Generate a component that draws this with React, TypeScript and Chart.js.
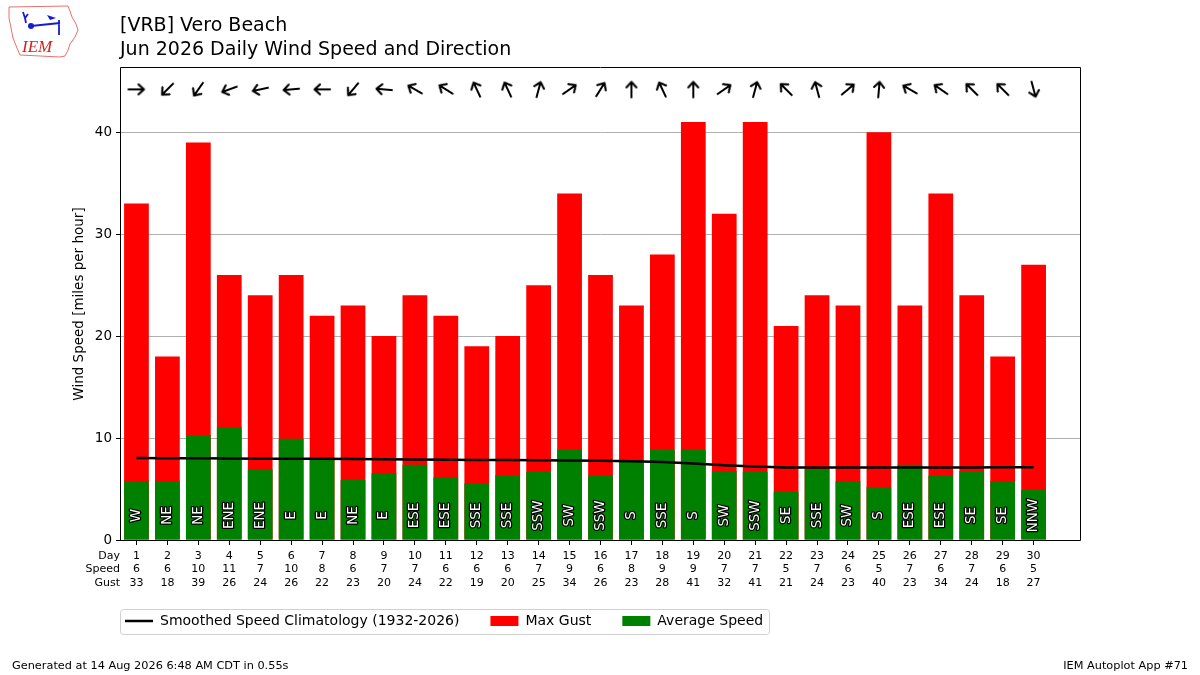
import { useEffect, useRef } from 'react'
import { Chart, registerables } from 'chart.js'

Chart.register(...registerables)
Chart.defaults.font.family = '"DejaVu Sans", sans-serif'
Chart.defaults.color = '#000'

const days = [1, 2, 3, 4, 5, 6, 7, 8, 9, 10, 11, 12, 13, 14, 15, 16, 17, 18, 19, 20, 21, 22, 23, 24, 25, 26, 27, 28, 29, 30]
const avgSpeed = [5.78, 5.78, 10.29, 11.05, 6.93, 9.93, 8.07, 5.88, 6.57, 7.39, 6.14, 5.55, 6.37, 6.7, 8.89, 6.37, 7.85, 8.82, 8.86, 6.76, 6.7, 4.74, 6.96, 5.78, 5.2, 7.38, 6.31, 6.76, 5.78, 4.93]
const maxGust = [33, 18, 39, 26, 24, 26, 22, 23, 20, 24, 22, 19, 20, 25, 34, 26, 23, 28, 41, 32, 41, 21, 24, 23, 40, 23, 34, 24, 18, 27]
const speedRow = [6, 6, 10, 11, 7, 10, 8, 6, 7, 7, 6, 6, 6, 7, 9, 6, 8, 9, 9, 7, 7, 5, 7, 6, 5, 7, 6, 7, 6, 5]
const dirText = ['W', 'NE', 'NE', 'ENE', 'ENE', 'E', 'E', 'NE', 'E', 'ESE', 'ESE', 'SSE', 'SSE', 'SSW', 'SW', 'SSW', 'S', 'SSE', 'S', 'SW', 'SSW', 'SE', 'SSE', 'SW', 'S', 'ESE', 'ESE', 'SE', 'SE', 'NNW']
// direction the wind blows from, degrees
const dirDeg = [270, 45, 35, 70, 78, 85, 90, 40, 95, 120, 122, 155, 155, 195, 235, 212, 180, 155, 180, 235, 195, 135, 165, 230, 185, 120, 125, 135, 135, 345]
const climo = [8.05, 8.03, 8.01, 8.0, 7.98, 7.97, 7.96, 7.95, 7.92, 7.9, 7.87, 7.85, 7.84, 7.83, 7.8, 7.77, 7.72, 7.64, 7.5, 7.33, 7.2, 7.12, 7.1, 7.1, 7.1, 7.1, 7.11, 7.12, 7.13, 7.14]

const titleLines = ['[VRB] Vero Beach', 'Jun 2026 Daily Wind Speed and Direction']
const rowNames = ['Day', 'Speed', 'Gust']
const footerLeft = 'Generated at 14 Aug 2026 6:48 AM CDT in 0.55s'
const footerRight = 'IEM Autoplot App #71'

const ARROW_Y = 44.2
const LABEL_Y = 2.4
const LEGEND_PAD = 31
const LEGEND_ITEM_TOP = 614

function makeArrow() {
  const c = document.createElement('canvas')
  c.width = 22
  c.height = 22
  const ctx = c.getContext('2d')!
  ctx.strokeStyle = '#000'
  ctx.lineWidth = 2
  ctx.lineCap = 'round'
  ctx.lineJoin = 'round'
  ctx.beginPath()
  ctx.moveTo(11, 19)
  ctx.lineTo(11, 3.5)
  ctx.moveTo(6, 9)
  ctx.lineTo(11, 3.5)
  ctx.lineTo(16, 9)
  ctx.stroke()
  return c
}

function drawLogo(ctx: CanvasRenderingContext2D) {
  ctx.save()
  ctx.strokeStyle = '#e87070'
  ctx.lineWidth = 1
  const outline = [[9, 7], [68, 6], [70, 11], [72, 17], [76, 24], [78, 30], [75, 37], [70, 44], [68, 50], [65, 56], [60, 57], [20, 55], [17, 48], [13, 38], [11, 28], [9, 18]]
  ctx.beginPath()
  outline.forEach(([x, y], i) => (i ? ctx.lineTo(x, y) : ctx.moveTo(x, y)))
  ctx.closePath()
  ctx.stroke()
  ctx.strokeStyle = '#1a1ad0'
  ctx.fillStyle = '#1a1ad0'
  ctx.lineWidth = 1.8
  ctx.beginPath()
  ctx.moveTo(31, 26); ctx.lineTo(60, 23)
  ctx.moveTo(59, 20); ctx.lineTo(59, 35)
  ctx.moveTo(23, 12); ctx.lineTo(25, 18); ctx.lineTo(28, 14)
  ctx.moveTo(25, 18); ctx.lineTo(26, 23)
  ctx.stroke()
  ctx.beginPath(); ctx.arc(31, 26, 3, 0, Math.PI * 2); ctx.fill()
  ctx.beginPath(); ctx.moveTo(47, 15); ctx.lineTo(56, 18); ctx.lineTo(50, 20); ctx.closePath(); ctx.fill()
  ctx.font = 'italic 17px "Liberation Serif", "DejaVu Serif", serif'
  ctx.fillStyle = '#d42020'
  ctx.textAlign = 'left'
  ctx.textBaseline = 'alphabetic'
  ctx.fillText('IEM', 22, 52)
  ctx.restore()
}

const decor = {
  id: 'decor',
  afterUpdate(chart: any) {
    // put the legend where the reference has it: 4px inside the axes, just under the tick table
    const lg = chart.legend
    if (!lg || !lg.legendHitBoxes) return
    const dx = chart.chartArea.left + 4 - LEGEND_PAD - lg.left
    const dy = LEGEND_ITEM_TOP - LEGEND_PAD - lg.top
    lg.left += dx
    lg.top += dy
    lg.bottom += dy
    lg.legendHitBoxes.forEach((hb: any) => {
      hb.left += dx
      hb.top += dy
    })
  },
  afterDatasetsDraw(chart: any) {
    const { ctx, chartArea: a, scales } = chart
    ctx.save()
    // direction names inside the bars
    ctx.font = '13.5px "DejaVu Sans"'
    ctx.textAlign = 'center'
    ctx.textBaseline = 'middle'
    ctx.lineJoin = 'round'
    ctx.lineWidth = 2.5
    ctx.strokeStyle = '#000'
    ctx.fillStyle = '#fff'
    days.forEach((d, i) => {
      ctx.save()
      ctx.translate(scales.x.getPixelForValue(d), scales.y.getPixelForValue(LABEL_Y))
      ctx.rotate(-Math.PI / 2)
      ctx.strokeText(dirText[i], 0, 0)
      ctx.fillText(dirText[i], 0, 0)
      ctx.restore()
    })
    // axes frame
    ctx.strokeStyle = '#000'
    ctx.lineWidth = 1
    const l = Math.round(a.left) - 0.5
    const t = Math.round(a.top) - 0.5
    ctx.strokeRect(l, t, Math.round(a.right) - Math.round(a.left) + 1, Math.round(a.bottom) - Math.round(a.top) + 1)
    ctx.restore()
  },
  afterDraw(chart: any) {
    const { ctx, chartArea: a } = chart
    ctx.save()
    ctx.fillStyle = '#000'
    ctx.textBaseline = 'alphabetic'
    ctx.textAlign = 'left'
    ctx.font = '19px "DejaVu Sans"'
    ctx.fillText(titleLines[0], 120, 31)
    ctx.fillText(titleLines[1], 120, 54.5)

    ctx.font = '11.3px "DejaVu Sans"'
    ctx.fillText(footerLeft, 12, 669)
    ctx.textAlign = 'right'
    ctx.fillText(footerRight, 1188, 669)

    // row names for the tick table
    ctx.font = '11px "DejaVu Sans"'
    ctx.textBaseline = 'middle'
    const top = a.bottom + 9
    rowNames.forEach((n, i) => ctx.fillText(n, a.left - 1, top + 13.7 * i + 6.85))

    // legend frame
    const lg = chart.legend
    if (lg && lg.legendHitBoxes && lg.legendHitBoxes.length) {
      const hb = lg.legendHitBoxes
      const last = hb[hb.length - 1]
      const x0 = Math.round(a.left) - 0.5
      const x1 = Math.round(last.left + last.width + 6) + 0.5
      const y0 = Math.round(hb[0].top - 5) + 0.5
      const y1 = Math.round(hb[0].top + hb[0].height + 6) + 0.5
      ctx.strokeStyle = '#d0d0d0'
      ctx.lineWidth = 1
      ctx.beginPath()
      ctx.moveTo(x0 + 3, y0)
      ctx.arcTo(x1, y0, x1, y1, 3)
      ctx.arcTo(x1, y1, x0, y1, 3)
      ctx.arcTo(x0, y1, x0, y0, 3)
      ctx.arcTo(x0, y0, x1, y0, 3)
      ctx.closePath()
      ctx.stroke()
    }
    drawLogo(ctx)
    ctx.restore()
  },
}

export default function App() {
  const ref = useRef<HTMLCanvasElement>(null)

  useEffect(() => {
    if (!ref.current) return
    const arrow = makeArrow()
    const pts = (vals: number[]) => days.map((d, i) => ({ x: d, y: vals[i] }))

    const chart = new Chart(ref.current, {
      type: 'bar',
      data: {
        datasets: [
          {
            type: 'line',
            label: 'Smoothed Speed Climatology (1932-2026)',
            data: pts(climo),
            borderColor: '#000',
            backgroundColor: '#000',
            borderWidth: 2.5,
            pointRadius: 0,
            pointStyle: 'line',
            tension: 0,
            order: 0,
          },
          {
            type: 'bar',
            label: 'Max Gust',
            data: pts(maxGust),
            backgroundColor: '#ff0000',
            borderWidth: 0,
            grouped: false,
            barPercentage: 0.8,
            categoryPercentage: 1,
            pointStyle: 'rect',
            order: 2,
          },
          {
            type: 'bar',
            label: 'Average Speed',
            data: pts(avgSpeed),
            backgroundColor: '#008000',
            borderWidth: 0,
            grouped: false,
            barPercentage: 0.8,
            categoryPercentage: 1,
            pointStyle: 'rect',
            order: 1,
          },
          {
            type: 'line',
            label: 'direction',
            data: days.map((d) => ({ x: d, y: ARROW_Y })),
            showLine: false,
            pointStyle: arrow,
            pointRadius: 8,
            pointRotation: dirDeg.map((d) => (d + 180) % 360),
            order: 0,
          },
        ] as any,
      },
      options: {
        animation: false,
        responsive: true,
        maintainAspectRatio: false,
        events: [],
        layout: { padding: { left: 71, right: 120, top: 68, bottom: 20 } },
        plugins: {
          tooltip: { enabled: false },
          title: { display: false },
          legend: {
            position: 'bottom',
            align: 'start',
            fullSize: false,
            labels: {
              usePointStyle: true,
              pointStyleWidth: 28,
              boxHeight: 10,
              padding: LEGEND_PAD,
              color: '#000',
              font: { size: 14 },
              filter: (item: any) => item.datasetIndex !== 3,
              sort: (a: any, b: any) => a.datasetIndex - b.datasetIndex,
            },
          },
        },
        scales: {
          x: {
            type: 'linear',
            min: 0.5,
            max: 31.5,
            offset: false,
            afterBuildTicks: (axis: any) => {
              axis.ticks = days.map((d) => ({ value: d }))
            },
            afterFit: (s: any) => {
              s.height = 60
            },
            grid: { offset: false, drawOnChartArea: false, drawTicks: true, tickLength: 5, tickColor: '#000', color: '#000' },
            border: { display: false },
            ticks: {
              autoSkip: false,
              maxRotation: 0,
              padding: 4,
              color: '#000',
              font: { size: 11, lineHeight: '13.7px' },
              callback: (_v: any, i: number) => [String(days[i]), String(speedRow[i]), String(maxGust[i])],
            },
          },
          y: {
            type: 'linear',
            position: 'left',
            min: 0,
            max: 46.3,
            afterFit: (s: any) => {
              s.width = 50
            },
            grid: {
              color: (c: any) => (c.tick && c.tick.value === 0 ? 'rgba(0,0,0,0)' : '#b0b0b0'),
              tickColor: '#000',
              tickLength: 5,
              lineWidth: 1,
            },
            border: { display: false },
            ticks: { stepSize: 10, includeBounds: false, padding: 4, color: '#000', font: { size: 13.5 } },
            title: { display: true, text: 'Wind Speed [miles per hour]', color: '#000', font: { size: 13.5 }, padding: 0 },
          },
        },
      } as any,
      plugins: [decor],
    })

    return () => {
      chart.destroy()
    }
  }, [])

  return (
    <div style={{ position: 'fixed', left: 0, top: 0, width: 1200, height: 675, background: '#fff' }}>
      <canvas ref={ref} />
    </div>
  )
}
